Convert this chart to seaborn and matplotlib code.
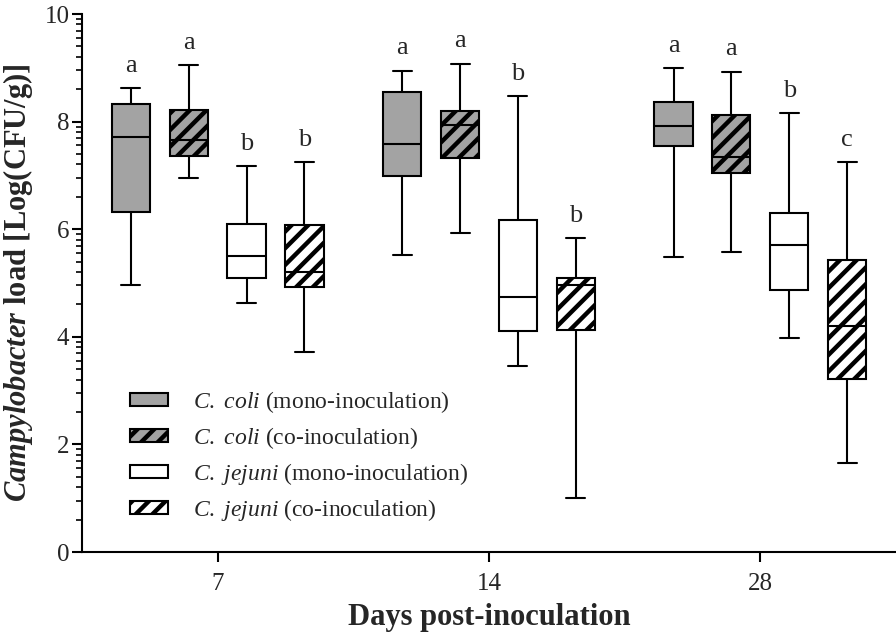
import numpy as np
import matplotlib
matplotlib.use("Agg")
import matplotlib.pyplot as plt
import matplotlib.patches as mpatches
import pandas as pd
import seaborn as sns

# five-number summaries [min, q1, median, q3, max] per day (7, 14, 28)
days = ["7", "14", "28"]
groups = ["coli_mono", "coli_co", "jejuni_mono", "jejuni_co"]
labels = [r"$\mathit{C.\ coli}$ (mono-inoculation)",
          r"$\mathit{C.\ coli}$ (co-inoculation)",
          r"$\mathit{C.\ jejuni}$ (mono-inoculation)",
          r"$\mathit{C.\ jejuni}$ (co-inoculation)"]

coli_mono = [[4.96, 6.32, 7.72, 8.33, 8.62],
             [5.52, 6.98, 7.59, 8.55, 8.95],
             [5.49, 7.55, 7.92, 8.37, 8.99]]
coli_co = [[6.95, 7.37, 7.65, 8.22, 9.05],
           [5.93, 7.33, 7.93, 8.20, 9.08],
           [5.58, 7.05, 7.35, 8.12, 8.93]]
jejuni_mono = [[4.62, 5.10, 5.50, 6.10, 7.17],
               [3.46, 4.11, 4.74, 6.18, 8.48],
               [3.98, 4.87, 5.70, 6.30, 8.16]]
jejuni_co = [[3.71, 4.92, 5.20, 6.07, 7.25],
             [1.00, 4.12, 4.97, 5.10, 5.83],
             [1.66, 3.22, 4.20, 5.42, 7.25]]

coli_mono_letters = ["a", "a", "a"]
coli_co_letters = ["a", "a", "a"]
jejuni_mono_letters = ["b", "b", "b"]
jejuni_co_letters = ["b", "b", "c"]

series = dict(coli_mono=coli_mono, coli_co=coli_co,
              jejuni_mono=jejuni_mono, jejuni_co=jejuni_co)
letters = dict(coli_mono=coli_mono_letters, coli_co=coli_co_letters,
               jejuni_mono=jejuni_mono_letters, jejuni_co=jejuni_co_letters)

rows = []
for g in groups:
    for d, vals in zip(days, series[g]):
        for v in vals:
            rows.append({"day": d, "group": g, "value": v})
df = pd.DataFrame(rows)

gray = "#a3a3a3"
palette = {"coli_mono": gray, "coli_co": gray, "jejuni_mono": "white", "jejuni_co": "white"}
hatches = {"coli_mono": "", "coli_co": "//", "jejuni_mono": "", "jejuni_co": "//"}

sns.set_theme(style="ticks")
plt.rcParams["font.family"] = ["Liberation Serif", "DejaVu Serif"]
plt.rcParams["mathtext.fontset"] = "custom"
plt.rcParams["mathtext.rm"] = "Liberation Serif"
plt.rcParams["mathtext.it"] = "Liberation Serif:italic"
plt.rcParams["mathtext.bf"] = "Liberation Serif:bold"
plt.rcParams["mathtext.bfit"] = "Liberation Serif:italic:bold"
plt.rcParams["hatch.linewidth"] = 3.2
plt.rcParams["hatch.color"] = "black"

fig, ax = plt.subplots(figsize=(8.96, 6.37), dpi=100)
fig.subplots_adjust(left=0.0915, right=1.0, top=0.978, bottom=0.1334)

width = 0.853
sns.boxplot(data=df, x="day", y="value", hue="group", order=days, hue_order=groups,
            palette=palette, whis=(0, 100), width=width, gap=0.34, linewidth=1.5,
            linecolor="black", saturation=1, legend=False, ax=ax)

# hatch the co-inoculation boxes
for cont, g in zip(ax.containers, groups):
    for box in cont.boxes:
        box.set_hatch(hatches[g])

# significance letters above the whiskers
for j, g in enumerate(groups):
    off = (j - 1.5) * width / 4
    for i, d in enumerate(days):
        ax.text(i + off, series[g][i][4] + 0.3, letters[g][i], ha="center",
                va="baseline", fontsize=19)

handles = [mpatches.Patch(facecolor=palette[g], edgecolor="black", hatch=hatches[g],
                          linewidth=1.5) for g in groups]
ax.legend(handles, labels, loc="upper left", bbox_to_anchor=(0.059, 0.303),
          frameon=False, fontsize=17, handlelength=1.6, handleheight=0.5,
          handletextpad=1.06, labelspacing=0.42, borderpad=0, borderaxespad=0)

ax.set_ylim(0, 10)
ax.set_yticks([0, 2, 4, 6, 8, 10])
ax.set_yticks([2 * k + 2 * np.log10(n) for k in range(5) for n in range(2, 10)], minor=True)
ax.tick_params(axis="both", which="major", length=7, width=1.5, labelsize=18, color="black")
ax.tick_params(axis="y", which="minor", length=4, width=1.2, color="black")
ax.tick_params(axis="y", pad=2)
ax.tick_params(axis="x", pad=8)

sns.despine(ax=ax)
for s in ["left", "bottom"]:
    ax.spines[s].set_linewidth(1.5)
    ax.spines[s].set_color("black")

ax.set_xlabel("Days post-inoculation", fontsize=22, fontweight="bold", labelpad=6)
ax.set_ylabel(r"$\mathbfit{Campylobacter}$ load [Log(CFU/g)]", fontsize=22,
              fontweight="bold")
ax.yaxis.set_label_coords(-0.058, 0.5)

fig.savefig("out.png", dpi=100)
